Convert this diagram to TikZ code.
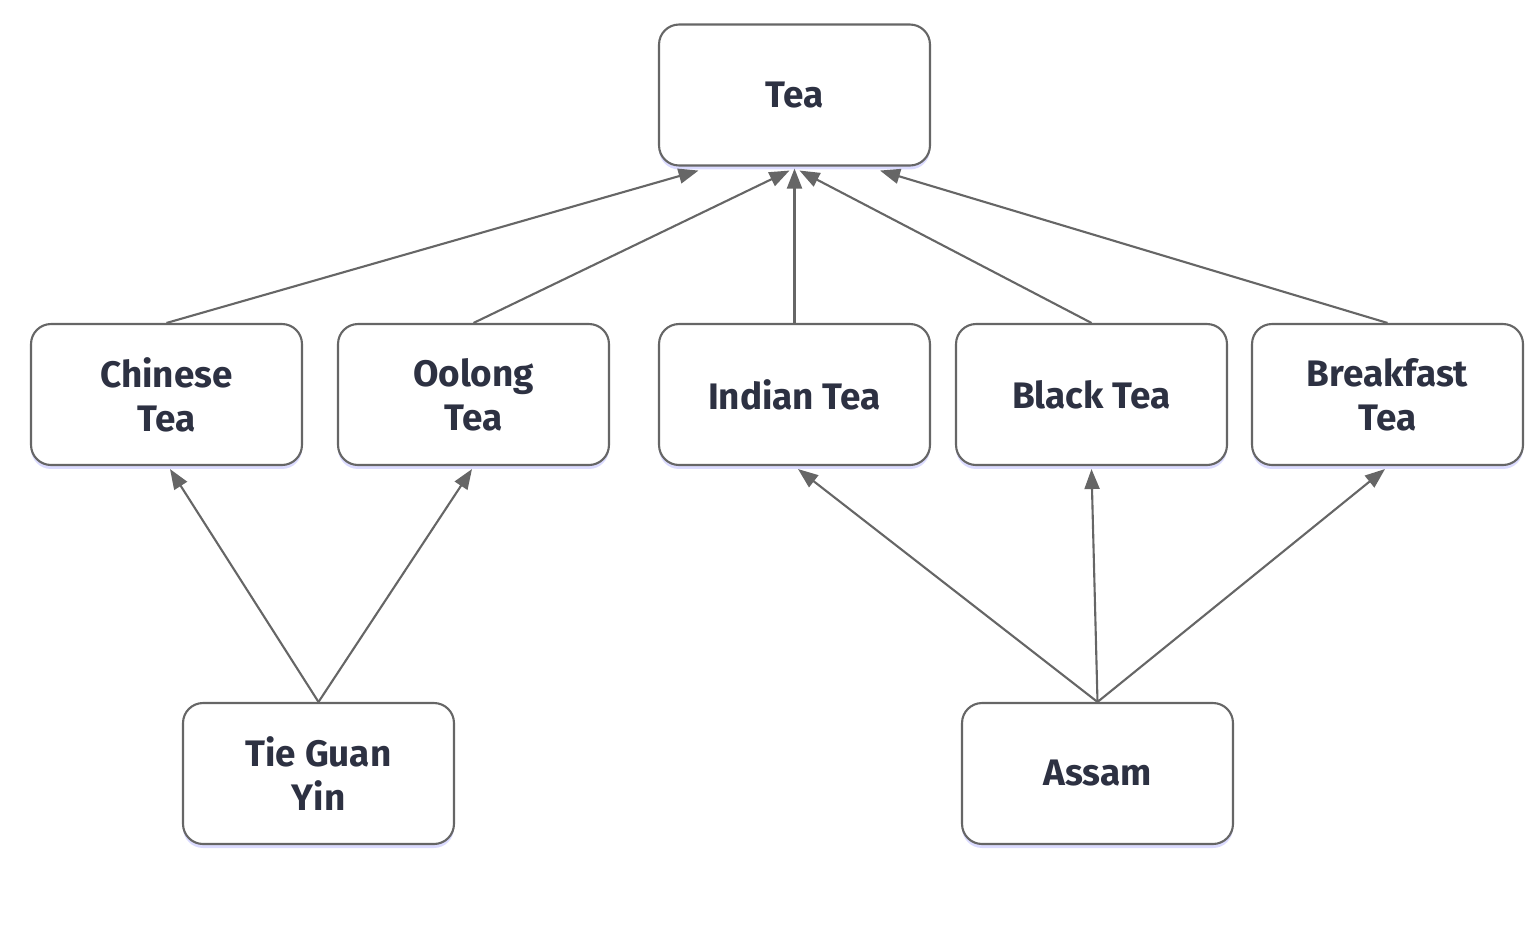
\documentclass[tikz,border=0pt]{standalone}
\usepackage{fontspec}
\setmainfont{Fira Sans}
\usetikzlibrary{arrows.meta,shadows}
\definecolor{txtcol}{HTML}{2D3142}
\definecolor{edgecol}{HTML}{666666}
\tikzset{
  box/.style={draw=edgecol, line width=1.2pt, rounded corners=0.4cm, fill=white,
    minimum width=5.42cm, minimum height=2.82cm, align=center, text=txtcol,
    font=\fontsize{21}{25}\selectfont\bfseries,
    drop shadow={shadow xshift=0pt, shadow yshift=-0.08cm, fill=blue!40, opacity=0.35}},
  link/.style={draw=edgecol, line width=1.2pt, -{Triangle[length=0.4cm,width=0.3cm]}}
}
\begin{document}
\begin{tikzpicture}[x=0.02cm,y=-0.02cm]
  \useasboundingbox (0,0) rectangle (1534,944);
  \node[box] (tea) at (794.5,95) {Tea};
  \node[box] (chinese) at (166.5,394.5) {Chinese\\Tea};
  \node[box] (oolong) at (473.5,394.5) {Oolong\\Tea};
  \node[box] (indian) at (794.5,394.5) {Indian Tea};
  \node[box] (black) at (1091.5,394.5) {Black Tea};
  \node[box] (breakfast) at (1387.5,394.5) {Breakfast\\Tea};
  \node[box] (tieguan) at (318.5,773.5) {Tie Guan\\Yin};
  \node[box] (assam) at (1097.5,773.5) {Assam};
  %
  \draw[link] (chinese.north) -- ([xshift=-1.92cm,yshift=-0.08cm]tea.south);
  \draw[link] (oolong.north) -- ([xshift=-0.1cm,yshift=-0.08cm]tea.south);
  \draw[link] (indian.north) -- ([yshift=-0.04cm]tea.south);
  \draw[link] (black.north) -- ([xshift=0.1cm,yshift=-0.08cm]tea.south);
  \draw[link] (breakfast.north) -- ([xshift=1.71cm,yshift=-0.08cm]tea.south);
  \draw[link] (tieguan.north) -- ([xshift=0.07cm,yshift=-0.06cm]chinese.south);
  \draw[link] (tieguan.north) -- ([xshift=-0.03cm,yshift=-0.06cm]oolong.south);
  \draw[link] (assam.north) -- ([xshift=0.07cm,yshift=-0.06cm]indian.south);
  \draw[link] (assam.north) -- ([yshift=-0.06cm]black.south);
  \draw[link] (assam.north) -- ([xshift=-0.05cm,yshift=-0.06cm]breakfast.south);
\end{tikzpicture}
\end{document}
